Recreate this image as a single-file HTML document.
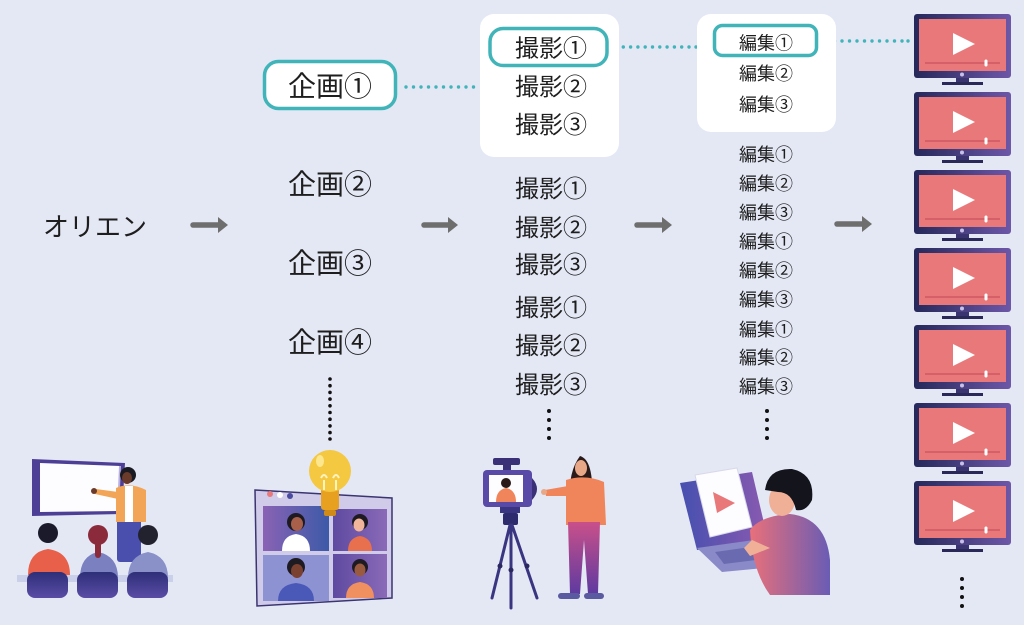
<!DOCTYPE html>
<html><head><meta charset="utf-8"><style>
html,body{margin:0;padding:0;background:#e4e8f5;}
svg{display:block;}
text{font-family:"Liberation Sans","Noto Sans CJK JP",sans-serif;fill:#1e1e1e;}
</style></head><body>
<svg width="1024" height="625" viewBox="0 0 1024 625" xmlns="http://www.w3.org/2000/svg">
<defs>
<linearGradient id="mon" x1="0" y1="0" x2="1" y2="0"><stop offset="0" stop-color="#25285a"/><stop offset="1" stop-color="#6d57a8"/></linearGradient>
<linearGradient id="chair" x1="0" y1="0" x2="0" y2="1"><stop offset="0" stop-color="#2e2f78"/><stop offset="1" stop-color="#5a4ca6"/></linearGradient>
<linearGradient id="pants" x1="0" y1="0" x2="0" y2="1"><stop offset="0" stop-color="#c9508a"/><stop offset="1" stop-color="#5e3aa0"/></linearGradient>
<linearGradient id="sweat" x1="0" y1="0" x2="1" y2="0"><stop offset="0" stop-color="#e8707a"/><stop offset="1" stop-color="#6a5cb4"/></linearGradient>
<linearGradient id="lap" x1="0" y1="0" x2="1" y2="0"><stop offset="0" stop-color="#4650b0"/><stop offset="1" stop-color="#8a5ab0"/></linearGradient>
<linearGradient id="p1" x1="0" y1="0" x2="1" y2="0"><stop offset="0" stop-color="#8a62b4"/><stop offset="1" stop-color="#3c5aa8"/></linearGradient>
<linearGradient id="p2" x1="0" y1="0" x2="1" y2="0"><stop offset="0" stop-color="#5e4aa0"/><stop offset="1" stop-color="#8a6ab8"/></linearGradient>
</defs>

<!-- オリエン -->
<text x="43" y="236" font-size="26">オリエン</text>

<!-- arrows -->
<g fill="#6e6e6e" stroke="#6e6e6e">
<line x1="193" y1="225" x2="220" y2="225" stroke-width="5.5" stroke-linecap="round"/><polygon points="218,217 228,225 218,233" stroke="none"/>
<line x1="424" y1="225" x2="450" y2="225" stroke-width="5.5" stroke-linecap="round"/><polygon points="448,217 458,225 448,233" stroke="none"/>
<line x1="637" y1="225" x2="664" y2="225" stroke-width="5.5" stroke-linecap="round"/><polygon points="662,217 672,225 662,233" stroke="none"/>
<line x1="837" y1="224" x2="864" y2="224" stroke-width="5.5" stroke-linecap="round"/><polygon points="862,216 872,224 862,232" stroke="none"/>
</g>

<!-- 企画 -->
<rect x="264.5" y="61.5" width="131" height="47" rx="14" fill="#fff" stroke="#40b4b8" stroke-width="3.5"/>
<text x="288" y="96" font-size="28">企画①</text>
<text x="288" y="194" font-size="28">企画②</text>
<text x="288" y="273" font-size="28">企画③</text>
<text x="288" y="352" font-size="28">企画④</text>
<g fill="#111">
<circle cx="330" cy="379" r="1.8"/><circle cx="330" cy="385.7" r="1.8"/><circle cx="330" cy="392.4" r="1.8"/><circle cx="330" cy="399.1" r="1.8"/><circle cx="330" cy="405.8" r="1.8"/><circle cx="330" cy="412.5" r="1.8"/><circle cx="330" cy="419.2" r="1.8"/><circle cx="330" cy="425.9" r="1.8"/><circle cx="330" cy="432.6" r="1.8"/><circle cx="330" cy="439" r="1.8"/>
</g>

<!-- teal dotted lines -->
<g fill="#40b4b8">
<circle cx="406" cy="87" r="1.7"/><circle cx="413.5" cy="87" r="1.7"/><circle cx="421" cy="87" r="1.7"/><circle cx="428.5" cy="87" r="1.7"/><circle cx="436" cy="87" r="1.7"/><circle cx="443.5" cy="87" r="1.7"/><circle cx="451" cy="87" r="1.7"/><circle cx="458.5" cy="87" r="1.7"/><circle cx="466" cy="87" r="1.7"/><circle cx="473.5" cy="87" r="1.7"/>
<circle cx="616" cy="47" r="1.7"/><circle cx="623.3" cy="47" r="1.7"/><circle cx="630.6" cy="47" r="1.7"/><circle cx="637.9" cy="47" r="1.7"/><circle cx="645.2" cy="47" r="1.7"/><circle cx="652.5" cy="47" r="1.7"/><circle cx="659.8" cy="47" r="1.7"/><circle cx="667.1" cy="47" r="1.7"/><circle cx="674.4" cy="47" r="1.7"/><circle cx="681.7" cy="47" r="1.7"/><circle cx="689" cy="47" r="1.7"/><circle cx="696" cy="47" r="1.7"/>
<circle cx="827" cy="41" r="1.7"/><circle cx="834.5" cy="41" r="1.7"/><circle cx="842" cy="41" r="1.7"/><circle cx="849.5" cy="41" r="1.7"/><circle cx="857" cy="41" r="1.7"/><circle cx="864.5" cy="41" r="1.7"/><circle cx="872" cy="41" r="1.7"/><circle cx="879.5" cy="41" r="1.7"/><circle cx="887" cy="41" r="1.7"/><circle cx="894.5" cy="41" r="1.7"/><circle cx="902" cy="41" r="1.7"/><circle cx="908" cy="41" r="1.7"/>
</g>

<!-- 撮影 -->
<rect x="480" y="14" width="139" height="143" rx="14" fill="#fff"/>
<rect x="490" y="28.5" width="117" height="37" rx="13" fill="#fff" stroke="#40b4b8" stroke-width="3.5"/>
<text x="515" y="56.5" font-size="24">撮影①</text>
<text x="515" y="95" font-size="24">撮影②</text>
<text x="515" y="133" font-size="24">撮影③</text>
<text x="515" y="197" font-size="24">撮影①</text>
<text x="515" y="236" font-size="24">撮影②</text>
<text x="515" y="273" font-size="24">撮影③</text>
<text x="515" y="316" font-size="24">撮影①</text>
<text x="515" y="354" font-size="24">撮影②</text>
<text x="515" y="393" font-size="24">撮影③</text>
<g fill="#111"><circle cx="549" cy="411" r="2"/><circle cx="549" cy="420" r="2"/><circle cx="549" cy="429" r="2"/><circle cx="549" cy="438" r="2"/></g>

<!-- 編集 -->
<rect x="697" y="14" width="139" height="118" rx="14" fill="#fff"/>
<rect x="714.5" y="25.5" width="102" height="30" rx="8" fill="#fff" stroke="#40b4b8" stroke-width="3.5"/>
<text x="739" y="49.5" font-size="18">編集①</text>
<text x="739" y="80" font-size="18">編集②</text>
<text x="739" y="111" font-size="18">編集③</text>
<text x="739" y="161" font-size="18">編集①</text>
<text x="739" y="190" font-size="18">編集②</text>
<text x="739" y="219" font-size="18">編集③</text>
<text x="739" y="248" font-size="18">編集①</text>
<text x="739" y="277" font-size="18">編集②</text>
<text x="739" y="306" font-size="18">編集③</text>
<text x="739" y="336" font-size="18">編集①</text>
<text x="739" y="364" font-size="18">編集②</text>
<text x="739" y="393" font-size="18">編集③</text>
<g fill="#111"><circle cx="767" cy="411" r="2"/><circle cx="767" cy="420" r="2"/><circle cx="767" cy="429" r="2"/><circle cx="767" cy="438" r="2"/></g>

<!-- monitors -->
<g transform="translate(914,14)"><rect width="97" height="64" rx="3" fill="url(#mon)"/><rect x="5" y="5" width="87" height="52" fill="#e8787a"/><polygon points="39,19 61,30 39,41" fill="#fff"/><line x1="11" y1="49" x2="86" y2="49" stroke="#d05862" stroke-width="1.5"/><rect x="70.5" y="45.5" width="3" height="7" rx="1.5" fill="#fff"/><circle cx="48" cy="60.5" r="2" fill="#c8c0e8"/><rect x="42" y="64" width="13" height="5" fill="#3a3470"/><rect x="28" y="68" width="41" height="3" fill="#2a2858"/></g>
<g transform="translate(914,92)"><rect width="97" height="64" rx="3" fill="url(#mon)"/><rect x="5" y="5" width="87" height="52" fill="#e8787a"/><polygon points="39,19 61,30 39,41" fill="#fff"/><line x1="11" y1="49" x2="86" y2="49" stroke="#d05862" stroke-width="1.5"/><rect x="70.5" y="45.5" width="3" height="7" rx="1.5" fill="#fff"/><circle cx="48" cy="60.5" r="2" fill="#c8c0e8"/><rect x="42" y="64" width="13" height="5" fill="#3a3470"/><rect x="28" y="68" width="41" height="3" fill="#2a2858"/></g>
<g transform="translate(914,170)"><rect width="97" height="64" rx="3" fill="url(#mon)"/><rect x="5" y="5" width="87" height="52" fill="#e8787a"/><polygon points="39,19 61,30 39,41" fill="#fff"/><line x1="11" y1="49" x2="86" y2="49" stroke="#d05862" stroke-width="1.5"/><rect x="70.5" y="45.5" width="3" height="7" rx="1.5" fill="#fff"/><circle cx="48" cy="60.5" r="2" fill="#c8c0e8"/><rect x="42" y="64" width="13" height="5" fill="#3a3470"/><rect x="28" y="68" width="41" height="3" fill="#2a2858"/></g>
<g transform="translate(914,248)"><rect width="97" height="64" rx="3" fill="url(#mon)"/><rect x="5" y="5" width="87" height="52" fill="#e8787a"/><polygon points="39,19 61,30 39,41" fill="#fff"/><line x1="11" y1="49" x2="86" y2="49" stroke="#d05862" stroke-width="1.5"/><rect x="70.5" y="45.5" width="3" height="7" rx="1.5" fill="#fff"/><circle cx="48" cy="60.5" r="2" fill="#c8c0e8"/><rect x="42" y="64" width="13" height="5" fill="#3a3470"/><rect x="28" y="68" width="41" height="3" fill="#2a2858"/></g>
<g transform="translate(914,325)"><rect width="97" height="64" rx="3" fill="url(#mon)"/><rect x="5" y="5" width="87" height="52" fill="#e8787a"/><polygon points="39,19 61,30 39,41" fill="#fff"/><line x1="11" y1="49" x2="86" y2="49" stroke="#d05862" stroke-width="1.5"/><rect x="70.5" y="45.5" width="3" height="7" rx="1.5" fill="#fff"/><circle cx="48" cy="60.5" r="2" fill="#c8c0e8"/><rect x="42" y="64" width="13" height="5" fill="#3a3470"/><rect x="28" y="68" width="41" height="3" fill="#2a2858"/></g>
<g transform="translate(914,403)"><rect width="97" height="64" rx="3" fill="url(#mon)"/><rect x="5" y="5" width="87" height="52" fill="#e8787a"/><polygon points="39,19 61,30 39,41" fill="#fff"/><line x1="11" y1="49" x2="86" y2="49" stroke="#d05862" stroke-width="1.5"/><rect x="70.5" y="45.5" width="3" height="7" rx="1.5" fill="#fff"/><circle cx="48" cy="60.5" r="2" fill="#c8c0e8"/><rect x="42" y="64" width="13" height="5" fill="#3a3470"/><rect x="28" y="68" width="41" height="3" fill="#2a2858"/></g>
<g transform="translate(914,481)"><rect width="97" height="64" rx="3" fill="url(#mon)"/><rect x="5" y="5" width="87" height="52" fill="#e8787a"/><polygon points="39,19 61,30 39,41" fill="#fff"/><line x1="11" y1="49" x2="86" y2="49" stroke="#d05862" stroke-width="1.5"/><rect x="70.5" y="45.5" width="3" height="7" rx="1.5" fill="#fff"/><circle cx="48" cy="60.5" r="2" fill="#c8c0e8"/><rect x="42" y="64" width="13" height="5" fill="#3a3470"/><rect x="28" y="68" width="41" height="3" fill="#2a2858"/></g>
<g fill="#111"><circle cx="962" cy="579" r="2"/><circle cx="962" cy="588" r="2"/><circle cx="962" cy="597" r="2"/><circle cx="962" cy="606" r="2"/></g>

<!-- presentation illustration -->
<polygon points="32,459 125,463 122,514 32,516" fill="#4d3f96"/>
<polygon points="40,463 120,466 118,511 40,512" fill="#fdfdff"/>
<line x1="120" y1="466" x2="118" y2="511" stroke="#b8b0e0" stroke-width="2"/>
<rect x="117" y="518" width="24" height="44" rx="3" fill="#4a4fae"/>
<path d="M116,488 Q130,482 146,490 L146,522 L116,522 Z" fill="#f2a556"/>
<rect x="125" y="486" width="8" height="36" fill="#fff"/>
<path d="M118,492 L96,489 L95,494 L118,499 Z" fill="#f2a556"/>
<circle cx="94" cy="491" r="3" fill="#6a3a2a"/>
<circle cx="128" cy="475" r="8" fill="#1a1a22"/>
<ellipse cx="127" cy="478" rx="5" ry="6" fill="#6a3a2a"/>
<rect x="17" y="575" width="156" height="7" fill="#cbd0ea"/>
<circle cx="48" cy="533" r="10" fill="#1a1a2a"/>
<path d="M28,575 Q28,552 48,549 Q70,552 70,575 Z" fill="#e8604a"/>
<circle cx="98" cy="535" r="10" fill="#8a2a3a"/>
<path d="M80,578 Q80,556 98,552 Q118,556 118,578 Z" fill="#7a80c0"/>
<rect x="95" y="542" width="6" height="16" rx="3" fill="#8a2a3a"/>
<circle cx="148" cy="535" r="10" fill="#22222e"/>
<path d="M128,578 Q128,556 148,552 Q168,556 168,578 Z" fill="#8a90c8"/>
<rect x="27" y="572" width="41" height="26" rx="8" fill="url(#chair)"/>
<rect x="77" y="572" width="41" height="26" rx="8" fill="url(#chair)"/>
<rect x="127" y="572" width="41" height="26" rx="8" fill="url(#chair)"/>

<!-- video call illustration -->
<polygon points="255,490 392,498 392,598 257,606" fill="#cfcbe9" stroke="#3a3470" stroke-width="1.5"/>
<circle cx="270" cy="494" r="3" fill="#e8787a"/><circle cx="280" cy="495" r="3" fill="#fff"/><circle cx="290" cy="496" r="3" fill="#4a4aa0"/>
<rect x="263" y="506" width="66" height="45" fill="url(#p1)"/>
<rect x="333" y="509" width="54" height="42" fill="url(#p2)"/>
<rect x="263" y="555" width="66" height="46" fill="#8d93d2"/>
<rect x="333" y="554" width="54" height="44" fill="url(#p2)"/>
<path d="M282,551 Q282,536 296,534 Q310,536 310,551 Z" fill="#fff"/><circle cx="296" cy="522" r="9" fill="#1e1a22"/><ellipse cx="297" cy="524" rx="6" ry="7" fill="#a8604a"/>
<path d="M348,551 Q348,538 360,536 Q372,538 372,551 Z" fill="#e8704e"/><circle cx="360" cy="522" r="8" fill="#1e1a22"/><ellipse cx="359" cy="525" rx="5.5" ry="6.5" fill="#f0b59a"/>
<path d="M278,601 Q278,585 296,583 Q314,585 314,601 Z" fill="#4a58b8"/><circle cx="296" cy="567" r="9" fill="#1e1a22"/><ellipse cx="297" cy="571" rx="6" ry="7" fill="#7a4030"/>
<path d="M346,598 Q346,584 360,582 Q374,584 374,598 Z" fill="#f09060"/><circle cx="360" cy="567" r="8" fill="#1e1a22"/><ellipse cx="360" cy="570" rx="5.5" ry="6.5" fill="#9a5a40"/>
<rect x="321" y="488" width="18" height="22" rx="3" fill="#e8a020"/>
<rect x="324" y="510" width="12" height="6" rx="2" fill="#d08a18"/>
<circle cx="330" cy="471" r="21" fill="#f5c842"/>
<path d="M324,490 L324,480 M336,490 L336,480 M321,478 Q324,472 327,478 M333,478 Q336,472 339,478" stroke="#fff3c0" stroke-width="2" fill="none"/>
<ellipse cx="320" cy="461" rx="4" ry="6" fill="#fff3b0" opacity="0.7"/>

<!-- camera illustration -->
<rect x="493" y="458" width="27" height="7" rx="2" fill="#3a3078"/>
<rect x="503" y="463" width="8" height="8" fill="#3a3078"/>
<rect x="483" y="470" width="49" height="37" rx="4" fill="#5a4aa8"/>
<rect x="489" y="475" width="34" height="27" fill="#fdfdff"/>
<path d="M496,502 Q496,490 506,488 Q516,490 516,502 Z" fill="#f0845a"/>
<circle cx="506" cy="483" r="5" fill="#2a1a1a"/>
<path d="M532,478 Q542,489 532,500 Z" fill="#3a3078"/>
<rect x="500" y="507" width="20" height="6" fill="#3a3580"/>
<rect x="503" y="513" width="15" height="12" rx="2" fill="#2e2a6e"/>
<g stroke="#3a3580" stroke-width="3" stroke-linecap="round"><line x1="510" y1="525" x2="492" y2="598"/><line x1="511" y1="525" x2="511" y2="608"/><line x1="512" y1="525" x2="537" y2="598"/></g>
<g fill="#2a2660"><circle cx="500" cy="566" r="2.5"/><circle cx="511" cy="570" r="2.5"/><circle cx="527" cy="566" r="2.5"/></g>
<path d="M570,500 Q568,472 580,456 Q594,460 592,500 Z" fill="#2a1a1a"/>
<ellipse cx="581" cy="468" rx="6" ry="8" fill="#e8a888"/>
<path d="M566,480 Q585,474 604,482 L606,525 L566,525 Z" fill="#f0845a"/>
<path d="M568,486 L545,490 L546,496 L570,496 Z" fill="#f0845a"/>
<circle cx="544" cy="492" r="3" fill="#e8a888"/>
<path d="M568,522 L600,522 L598,594 L588,594 L584,540 L580,594 L570,594 Z" fill="url(#pants)"/>
<rect x="558" y="593" width="22" height="6" rx="3" fill="#5a5aa0"/><rect x="584" y="593" width="20" height="6" rx="3" fill="#5a5aa0"/>

<!-- laptop illustration -->
<polygon points="680,483 752,472 768,540 697,550" fill="url(#lap)"/>
<polygon points="695,475 737,468 752,527 710,537" fill="#fdfdff" stroke="#d8d8ea" stroke-width="1"/>
<polygon points="713,492 735,503 717,513" fill="#e8787a"/>
<polygon points="697,548 768,538 785,566 722,572" fill="#8a8ac8"/>
<polygon points="715,552 765,545 772,558 724,564" fill="#6a6ab0"/>
<path d="M750,530 Q760,516 790,514 Q826,518 830,560 L830,595 L770,595 Q752,570 750,530 Z" fill="url(#sweat)"/>
<path d="M752,540 L744,548 L750,556 L770,548 Z" fill="#f0b098"/>
<ellipse cx="782" cy="500" rx="13" ry="16" fill="#f0b098"/>
<path d="M765,490 Q768,468 792,469 Q815,474 812,500 Q806,512 796,510 Q792,492 778,492 Z" fill="#14141c"/>
</svg>
</body></html>
